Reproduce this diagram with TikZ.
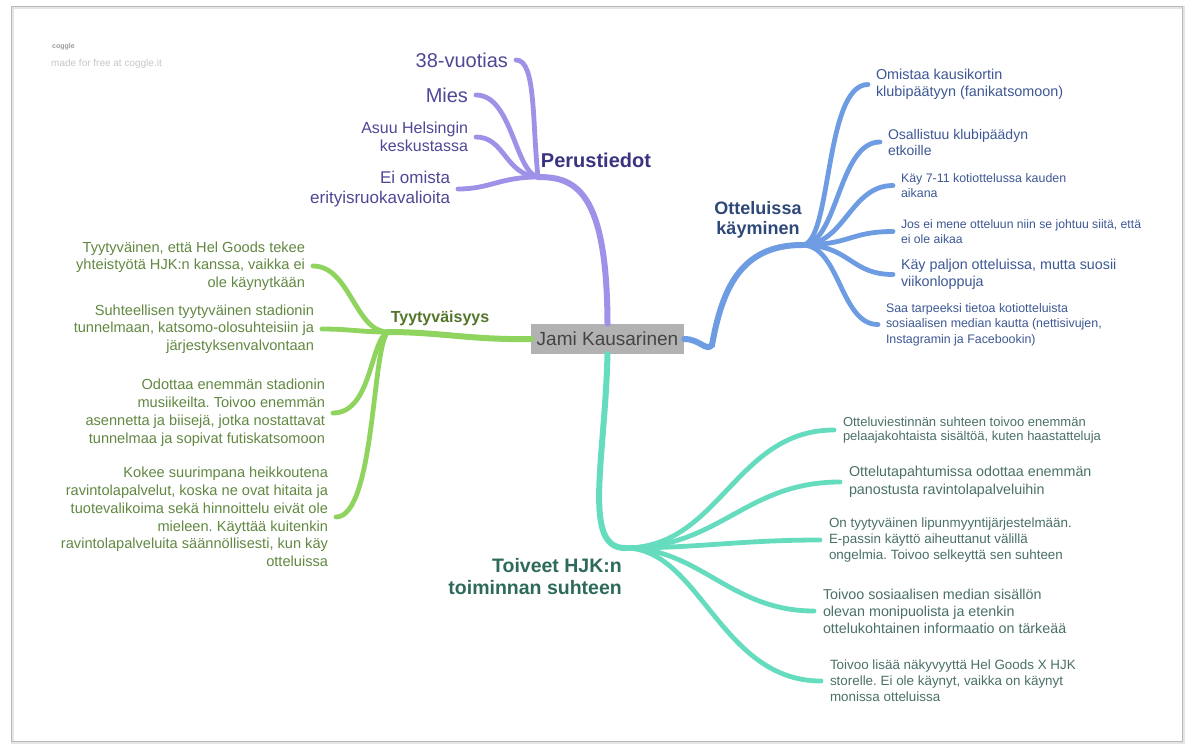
\documentclass[tikz,border=0pt]{standalone}
\usepackage{fontspec}
\setmainfont{Liberation Sans}
\frenchspacing
\definecolor{purpL}{RGB}{157,146,232}
\definecolor{purpT}{RGB}{78,72,150}
\definecolor{purpH}{RGB}{58,52,128}
\definecolor{blueL}{RGB}{110,156,226}
\definecolor{blueT}{RGB}{62,88,148}
\definecolor{blueH}{RGB}{46,72,120}
\definecolor{greenL}{RGB}{142,212,94}
\definecolor{greenT}{RGB}{98,136,66}
\definecolor{greenH}{RGB}{84,118,44}
\definecolor{tealL}{RGB}{102,220,190}
\definecolor{tealT}{RGB}{74,112,104}
\definecolor{tealH}{RGB}{46,106,92}
\definecolor{boxF}{RGB}{178,178,178}
\definecolor{boxT}{RGB}{68,68,68}
\newcommand\fsz[2]{\fontsize{#1}{#2}\selectfont}
\begin{document}
\begin{tikzpicture}[x=1pt,y=-1pt,
  mainline/.style={line width=6pt, line cap=round},
  subline/.style={line width=4.8pt, line cap=round},
  leafL/.style={inner sep=0pt, outer xsep=8pt, anchor=east, align=right},
  leafR/.style={inner sep=0pt, outer xsep=8pt, anchor=west, align=left},
  head/.style={inner sep=0pt},
  central/.style={fill=boxF, text=boxT, minimum width=153pt, minimum height=30pt, inner sep=0pt, font=\fsz{19}{22}}]
\useasboundingbox (0,0) rectangle (1192,745);
\fill[white] (0,0) rectangle (1192,745);
% page frame
\draw[line width=3pt, black!10] (12.5,7.5) rectangle (1183,742);
\draw[line width=0.8pt, black!28] (11,6) rectangle (1182,741);
% watermark
\node[inner sep=0pt, anchor=west, text=black!40, font=\bfseries\fsz{7}{8}] (logo) at (52,47) {coggle};
\node[inner sep=0pt, anchor=west, text=black!22, font=\fsz{10}{12}] (made) at (51,64) {made for free at coggle.it};

% central
\node[central] (c) at (607.5,339) {Jami Kausarinen};

% ---------- Perustiedot (purple)
\coordinate (jP) at (538,177);
\node[leafL, text=purpT, font=\fsz{20}{24}] (p1) at (516,60) {38-vuotias};
\node[leafL, text=purpT, font=\fsz{20}{24}] (p2) at (476,95) {Mies};
\node[leafL, text=purpT, font=\fsz{16}{18}] (p3) at (476,137) {Asuu Helsingin\\keskustassa};
\node[leafL, text=purpT, font=\fsz{17}{20}] (p4) at (458,189) {Ei omista\\erityisruokavalioita};
\node[head, text=purpH, font=\bfseries\fsz{20}{24}] (hP) at (596,160) {Perustiedot};
\draw[mainline, purpL] (c.north) .. controls (607,190) and (575,177) .. (jP);
\draw[subline, purpL] (jP) .. controls (532,120) and (536,60) .. (p1.east);
\draw[subline, purpL] (jP) .. controls (515,172) and (512,95) .. (p2.east);
\draw[subline, purpL] (jP) .. controls (505,175) and (505,137) .. (p3.east);
\draw[subline, purpL] (jP) .. controls (500,177) and (490,189) .. (p4.east);

% ---------- Otteluissa käyminen (blue)
\coordinate (jB) at (802,245);
\coordinate (kB) at (712,345);
\node[head, text=blueH, font=\bfseries\fsz{18}{20}, align=center] (hB) at (758,220) {Otteluissa\\käyminen};
\node[leafR, text=blueT, font=\fsz{14.4}{17}] (b1) at (868,84.5) {Omistaa kausikortin\\klubipäätyyn (fanikatsomoon)};
\node[leafR, text=blueT, font=\fsz{14}{16}] (b2) at (880,142) {Osallistuu klubipäädyn\\etkoille};
\node[leafR, text=blueT, font=\fsz{12.4}{15}] (b3) at (893,185.5) {Käy 7-11 kotiottelussa kauden\\aikana};
\node[leafR, text=blueT, font=\fsz{12.2}{15}] (b4) at (893,231.5) {Jos ei mene otteluun niin se johtuu siitä, että\\ei ole aikaa};
\node[leafR, text=blueT, font=\fsz{14.3}{17}] (b5) at (893,274.5) {Käy paljon otteluissa, mutta suosii\\viikonloppuja};
\node[leafR, text=blueT, font=\fsz{12.4}{15.5}] (b6) at (878,324.5) {Saa tarpeeksi tietoa kotiotteluista\\sosiaalisen median kautta (nettisivujen,\\Instagramin ja Facebookin)};
\draw[mainline, blueL] (c.east) .. controls (700,339) and (706,352) .. (kB) .. controls (722,290) and (740,245) .. (jB);
\draw[subline, blueL] (jB) .. controls (832,245) and (824,84.5) .. (b1.west);
\draw[subline, blueL] (jB) .. controls (838,245) and (838,142) .. (b2.west);
\draw[subline, blueL] (jB) .. controls (845,245) and (850,185.5) .. (b3.west);
\draw[subline, blueL] (jB) .. controls (850,245) and (850,231.5) .. (b4.west);
\draw[subline, blueL] (jB) .. controls (850,245) and (850,274.5) .. (b5.west);
\draw[subline, blueL] (jB) .. controls (840,245) and (840,324.5) .. (b6.west);

% ---------- Tyytyväisyys (green)
\coordinate (jG) at (388,332);
\node[head, text=greenH, font=\bfseries\fsz{16}{18}] (hG) at (440,318) {Tyytyväisyys};
\node[leafL, text=greenT, font=\fsz{14.6}{17.5}] (g1) at (313,266) {Tyytyväinen, että Hel Goods tekee\\yhteistyötä HJK:n kanssa, vaikka ei\\ole käynytkään};
\node[leafL, text=greenT, font=\fsz{14.6}{17.5}] (g2) at (322,329) {Suhteellisen tyytyväinen stadionin\\tunnelmaan, katsomo-olosuhteisiin ja\\järjestyksenvalvontaan};
\node[leafL, text=greenT, font=\fsz{14.6}{18}] (g3) at (333,413) {Odottaa enemmän stadionin\\musiikeilta. Toivoo enemmän\\asennetta ja biisejä, jotka nostattavat\\tunnelmaa ja sopivat futiskatsomoon};
\node[leafL, text=greenT, font=\fsz{14.6}{17.8}] (g4) at (336,517) {Kokee suurimpana heikkoutena\\ravintolapalvelut, koska ne ovat hitaita ja\\tuotevalikoima sekä hinnoittelu eivät ole\\mieleen. Käyttää kuitenkin\\ravintolapalveluita säännöllisesti, kun käy\\otteluissa};
\draw[mainline, greenL] (c.west) .. controls (470,340) and (440,332) .. (jG);
\draw[subline, greenL] (jG) .. controls (355,332) and (350,266) .. (g1.east);
\draw[subline, greenL] (jG) .. controls (360,332) and (350,329) .. (g2.east);
\draw[subline, greenL] (jG) .. controls (370,340) and (372,413) .. (g3.east);
\draw[subline, greenL] (jG) .. controls (372,345) and (375,517) .. (g4.east);

% ---------- Toiveet (teal)
\coordinate (jT) at (625,548);
\node[head, text=tealH, font=\bfseries\fsz{19.5}{22}, anchor=east, align=right] (hT) at (622,577) {Toiveet HJK:n\\toiminnan suhteen};
\node[leafR, outer xsep=9pt, text=tealT, font=\fsz{13}{14.5}] (t1) at (834,430) {Otteluviestinnän suhteen toivoo enemmän\\pelaajakohtaista sisältöä, kuten haastatteluja};
\node[leafR, outer xsep=9pt, text=tealT, font=\fsz{14.3}{18}] (t2) at (840,482) {Ottelutapahtumissa odottaa enemmän\\panostusta ravintolapalveluihin};
\node[leafR, outer xsep=9pt, text=tealT, font=\fsz{13.4}{16}] (t3) at (820,540) {On tyytyväinen lipunmyyntijärjestelmään.\\E-passin käyttö aiheuttanut välillä\\ongelmia. Toivoo selkeyttä sen suhteen};
\node[leafR, outer xsep=9pt, text=tealT, font=\fsz{14.3}{17}] (t4) at (814,611) {Toivoo sosiaalisen median sisällön\\olevan monipuolista ja etenkin\\ottelukohtainen informaatio on tärkeää};
\node[leafR, outer xsep=9pt, text=tealT, font=\fsz{13.4}{16}] (t5) at (821,681) {Toivoo lisää näkyvyyttä Hel Goods X HJK\\storelle. Ei ole käynyt, vaikka on käynyt\\monissa otteluissa};
\draw[mainline, tealL] (c.south) .. controls (605,460) and (582,548) .. (jT);
\draw[subline, tealL] (jT) .. controls (720,548) and (735,430) .. (t1.west);
\draw[subline, tealL] (jT) .. controls (720,548) and (745,482) .. (t2.west);
\draw[subline, tealL] (jT) .. controls (700,548) and (740,540) .. (t3.west);
\draw[subline, tealL] (jT) .. controls (700,548) and (730,611) .. (t4.west);
\draw[subline, tealL] (jT) .. controls (700,548) and (720,681) .. (t5.west);
\end{tikzpicture}
\end{document}
